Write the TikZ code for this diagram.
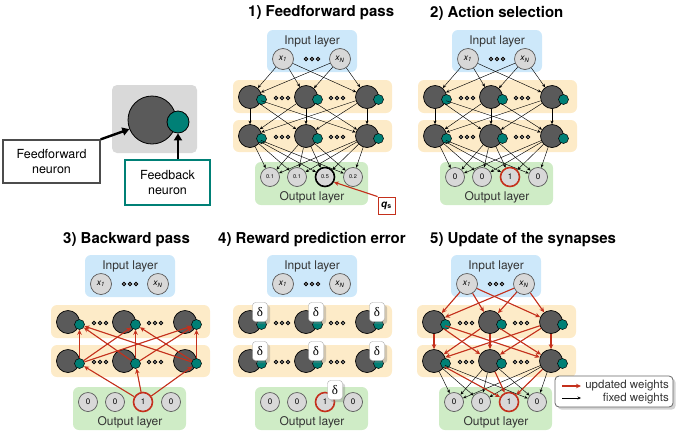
\documentclass[tikz,border=0pt]{standalone}
\usepackage{fontspec}
\setmainfont{TeX Gyre Heros}
\newfontfamily\deltafont{Liberation Serif}
\usetikzlibrary{arrows.meta,calc,shadows}

\definecolor{inblue}{RGB}{205,232,250}
\definecolor{hidorange}{RGB}{253,235,200}
\definecolor{outgreen}{RGB}{207,236,198}
\definecolor{nrngray}{RGB}{90,90,90}
\definecolor{unitgray}{RGB}{216,216,216}
\definecolor{boxgray}{RGB}{217,217,217}
\definecolor{fbteal}{RGB}{0,128,118}
\definecolor{nred}{RGB}{196,48,28}

\tikzset{
  ffn/.style={circle, draw=black, line width=0.7pt, fill=nrngray, minimum size=23pt, inner sep=0pt},
  fbn/.style={circle, draw=black, line width=0.5pt, fill=fbteal, minimum size=10pt, inner sep=0pt},
  ounit/.style={circle, draw=black!65, line width=0.7pt, fill=unitgray, minimum size=19pt, inner sep=0pt},
  iunit/.style={ounit, minimum size=21pt},
  ohlk/.style={ounit, draw=black, line width=1.6pt},
  ohlr/.style={ounit, draw=nred, line width=1.6pt},
  laytext/.style={inner sep=0pt, font=\fontsize{12}{14}\selectfont, text=black!80},
  ptitle/.style={anchor=west, inner sep=0pt, font=\fontsize{15}{17}\selectfont\bfseries},
  fw/.style={-{Stealth[length=3.5pt,width=3pt]}, line width=0.45pt},
  uw/.style={-{Stealth[length=5pt,width=4.5pt]}, line width=1.1pt, draw=nred, fill=nred},
  bigarrow/.style={-{Triangle[length=7pt,width=8pt]}, line width=2.4pt},
  badge/.style={draw=black!35, fill=white, rounded corners=3pt, minimum width=15pt, minimum height=19pt,
    inner sep=0pt, drop shadow={opacity=0.35}, font=\fontsize{13}{13}\deltafont},
  textbox/.style={align=center, fill=white, line width=1.3pt, font=\fontsize{12.5}{14.5}\selectfont},
  threedots/.pic={\foreach \d in {-6,0,6} \draw[fill=black!25, line width=0.8pt] (\d,0) circle (1.8pt);}
}

% one network panel, drawn at the position of panel 1
\newcommand\xlab[1]{{\fontsize{8.5}{8.5}\selectfont\itshape x\textsubscript{#1}}}
\newcommand\drawnet[3]{%
  \fill[inblue, rounded corners=6pt] (267,30) rectangle (357,72);
  \node[laytext] (#1-inl) at (312,41) {Input layer};
  \node[iunit] (#1-x1) at (283,59) {\xlab{1}};
  \node[iunit] (#1-xn) at (340,59) {\xlab{N}};
  \pic at (312,59) {threedots};
  \fill[hidorange, rounded corners=6pt] (233,80) rectangle (392,113);
  \fill[hidorange, rounded corners=6pt] (233,120) rectangle (392,152);
  \foreach \x [count=\i] in {250,306,367} {
    \node[ffn] (#1-a\i) at (\x,97) {};
    \node[fbn] (#1-fa\i) at (\x+11.5,99.5) {};
    \node[ffn] (#1-b\i) at (\x,136) {};
    \node[fbn] (#1-fb\i) at (\x+11.5,138.5) {};
  }
  \foreach \x in {282,337} {
    \pic at (\x,98) {threedots};
    \pic at (\x,137) {threedots};
  }
  \fill[outgreen, rounded corners=6pt] (255,162) rectangle (368,205);
  \node[laytext] (#1-outl) at (312,197) {Output layer};
  \foreach \x/\v/\s [count=\i] in {#2}
    \node[\s, font=#3] (#1-o\i) at (\x,177) {\v};
}

\begin{document}
\begin{tikzpicture}[x=1pt, y=-1pt]
  \useasboundingbox (0,0) rectangle (687,432);

  % neuron sketch
  \fill[boxgray, rounded corners=5pt] (112,85) rectangle (197,153);
  \node[circle, draw=black, line width=0.8pt, fill=nrngray, minimum size=48pt] (bign) at (152,120) {};
  \node[circle, draw=black, line width=0.8pt, fill=fbteal, minimum size=22pt] (fbign) at (178,122) {};
  \node[textbox, draw=black!70, minimum width=97pt, minimum height=43pt] (ffbox) at (51.5,161.5) {Feedforward\\neuron};
  \node[textbox, draw=fbteal, minimum width=85pt, minimum height=45pt] (fbbox) at (167.5,182.5) {Feedback\\neuron};
  \draw[bigarrow] (ffbox.north east) -- (bign.202);
  \draw[bigarrow] (fbbox.north -| fbign.south) -- (fbign.south);

  % titles
  \node[ptitle] (t1) at (248,13) {1) Feedforward pass};
  \node[ptitle] (t2) at (430,13) {2) Action selection};
  \node[ptitle] (t3) at (63,240) {3) Backward pass};
  \node[ptitle] (t4) at (218,240) {4) Reward prediction error};
  \node[ptitle] (t5) at (430,240) {5) Update of the synapses};

  % 1) feedforward pass
  \begin{scope}
    \drawnet{p1}{270/0.1/ounit, 297/0.1/ounit, 325/0.5/ohlk, 353/0.2/ounit}{\fontsize{5.5}{6}\selectfont}
    \foreach \s in {x1,xn} \foreach \t in {1,2,3} \draw[fw] (p1-\s) -- (p1-a\t);
    \foreach \s in {1,2,3} \foreach \t in {1,2,3} \draw[fw] (p1-a\s) -- (p1-b\t);
    \foreach \s in {1,2,3} \foreach \t in {1,...,4} \draw[fw] (p1-b\s) -- (p1-o\t);
    \node[draw=nred, line width=1pt, fill=white, minimum size=17pt, inner sep=0pt] (qs) at (386.5,205.5)
      {\textbf{\textit{q}}\textsubscript{\textbf{s}}};
    \draw[uw] (qs.north west) -- (p1-o3.-30);
  \end{scope}

  % 2) action selection
  \begin{scope}[shift={(185,0)}]
    \drawnet{p2}{270/0/ounit, 297/0/ounit, 325/1/ohlr, 353/0/ounit}{\fontsize{8}{8}\selectfont}
    \foreach \s in {x1,xn} \foreach \t in {1,2,3} \draw[fw] (p2-\s) -- (p2-a\t);
    \foreach \s in {1,2,3} \foreach \t in {1,2,3} \draw[fw] (p2-a\s) -- (p2-b\t);
    \foreach \s in {1,2,3} \foreach \t in {1,...,4} \draw[fw] (p2-b\s) -- (p2-o\t);
  \end{scope}

  % 3) backward pass
  \begin{scope}[shift={(-182,225)}]
    \drawnet{p3}{270/0/ounit, 297/0/ounit, 325/1/ohlr, 353/0/ounit}{\fontsize{8}{8}\selectfont}
    \foreach \t in {1,2,3} \draw[uw] (p3-o3) -- (p3-fb\t);
    \foreach \s in {1,2,3} \foreach \t in {1,2,3} \draw[uw] (p3-fb\s) -- (p3-fa\t);
  \end{scope}

  % 4) reward prediction error
  \begin{scope}[shift={(0,225)}]
    \drawnet{p4}{270/0/ounit, 297/0/ounit, 325/1/ohlr, 353/0/ounit}{\fontsize{8}{8}\selectfont}
    \foreach \i in {1,2,3} {
      \node[badge] (p4-da\i) at ($(p4-a\i)+(10,-10)$) {δ};
      \node[badge] (p4-db\i) at ($(p4-b\i)+(10,-10)$) {δ};
    }
    \node[badge] (p4-do) at ($(p4-o3)+(10,-12)$) {δ};
  \end{scope}

  % 5) update of the synapses
  \begin{scope}[shift={(184,225)}]
    \drawnet{p5}{270/0/ounit, 297/0/ounit, 325/1/ohlr, 353/0/ounit}{\fontsize{8}{8}\selectfont}
    \foreach \s in {1,2,3} \foreach \t in {1,2,4} \draw[fw] (p5-b\s) -- (p5-o\t);
    \foreach \s in {x1,xn} \foreach \t in {1,2,3} \draw[uw] (p5-\s) -- (p5-a\t);
    \foreach \s in {1,2,3} \foreach \t in {1,2,3} \draw[uw] (p5-a\s) -- (p5-b\t);
    \foreach \s in {1,2,3} \draw[uw] (p5-b\s) -- (p5-o3);
  \end{scope}

  % legend
  \node[draw=black!60, line width=0.8pt, fill=white, rounded corners=4pt, minimum width=118pt,
    minimum height=31pt, drop shadow={opacity=0.35}] (leg) at (614,391.5) {};
  \coordinate (lu1) at (562,386);
  \coordinate (lu2) at (581,386);
  \coordinate (lf1) at (562,398);
  \coordinate (lf2) at (581,398);
  \draw[uw] (lu1) -- (lu2);
  \draw[fw] (lf1) -- (lf2);
  \node[laytext, anchor=east, font=\fontsize{11.5}{13}\selectfont] (legu) at (669,386) {updated weights};
  \node[laytext, anchor=east, font=\fontsize{11.5}{13}\selectfont] (legf) at (669,398.5) {fixed weights};
\end{tikzpicture}
\end{document}
